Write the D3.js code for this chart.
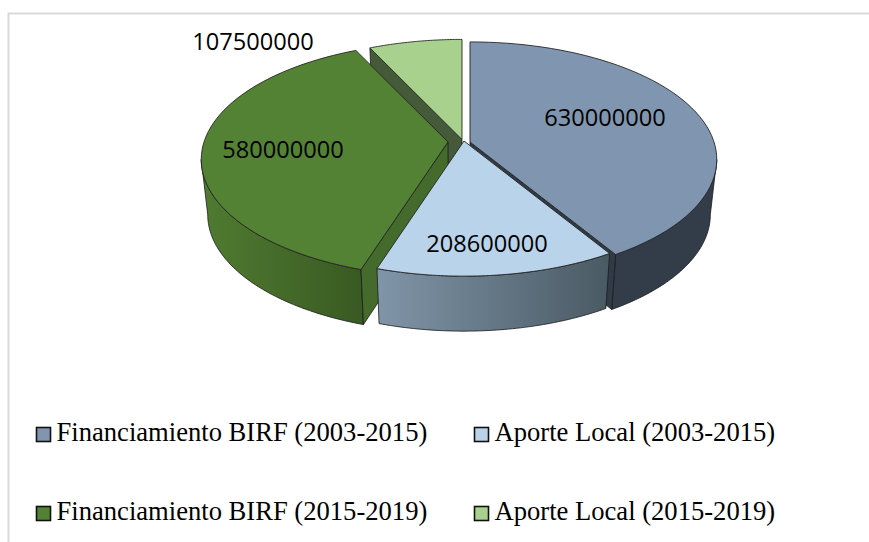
<!DOCTYPE html>
<html>
<head>
<meta charset="utf-8">
<script src="https://cdn.jsdelivr.net/npm/d3@7/dist/d3.min.js"></script>
<style>
html,body {margin:0;padding:0;background:#fff;}
svg {display:block;}
</style>
</head>
<body>
<div id="chart"></div>
<script>
//Chart values
var categories=["Financiamiento BIRF (2003-2015)","Aporte Local (2003-2015)","Financiamiento BIRF (2015-2019)","Aporte Local (2015-2019)"];
var values=[630000000,208600000,580000000,107500000];

//Slice colors
var topColors=["#8096b0","#b9d3ea","#548235","#a9d18e"];
var wallLeft=["#333d49","#8095a8","#507b31","#445a38"];
var wallRight=["#333d49","#4a5a64","#395a22","#445a38"];
var cutColors=["#303b47","#4a5a64","#446a2c","#445a38"];

//Layout of the exploded slices (apex of every slice on screen)
var apexX=[470,464,448,462];
var apexY=[142,141,142,139.5];
var labelX=[605,487,283,253];
var labelY=[117,243,149,41];

//Dimensions
var w=869;
var h=542;
var rx=244;      //horizontal radius
var ry=115;      //vertical radius
var persp=0.149; //the near side of the disc looks bigger
var depth=55;    //height of the walls
var shrink=0.975;//bottom of the pie converges a bit

var svg=d3.select("#chart")
          .append("svg")
          .attr("width",w)
          .attr("height",h);

//Gray frame, only top and left are visible
svg.append("path")
   .attr("d","M8.5,542V13.5H869")
   .attr("fill","none")
   .attr("stroke","#d9d9d9")
   .attr("stroke-width",2);

var pie=d3.pie().sort(null);
var slices=pie(values);

//Angle where the rim reaches its widest point, walls start to show there
var sideAngle=Math.acos(-persp);

//Point on the rim of a slice, side 0 is the top face and 1 the bottom
function rim(i,angle,side) {
    var u=Math.sin(angle),v=-Math.cos(angle);
    var d=1-persp*v;
    var x=rx*u/d, y=ry*v/d;
    if (side==1) {
        var mid=460-apexX[i];
        x=(x-mid)*shrink+mid;
        y=y+depth;
    }
    return [apexX[i]+x,apexY[i]+y];
}

function arcPoints(i,a0,a1,side) {
    return d3.range(0,61).map(function(k) {
        return rim(i,a0+(a1-a0)*k/60,side);
    });
}

function apex(i,side) {
    if (side==0) return [apexX[i],apexY[i]];
    var mid=460-apexX[i];
    return [apexX[i]-mid*shrink+mid,apexY[i]+depth];
}

var line=d3.line().curve(d3.curveLinear);
var defs=svg.append("defs");

slices.forEach(function(d,i) {
    var g=defs.append("linearGradient").attr("id","wall"+i);
    g.append("stop").attr("offset","0%").attr("stop-color",wallLeft[i]);
    g.append("stop").attr("offset","100%").attr("stop-color",wallRight[i]);
});

//Curved wall, only the part that faces the viewer
function drawOuter(i) {
    var d=slices[i];
    var a0=Math.max(d.startAngle,sideAngle);
    var a1=Math.min(d.endAngle,2*Math.PI-sideAngle);
    var up=arcPoints(i,a0,a1,0);
    var down=arcPoints(i,a0,a1,1).reverse();
    svg.append("path")
       .attr("d",line(up.concat(down))+"Z")
       .attr("fill","url(#wall"+i+")")
       .attr("stroke","#1a1a1a")
       .attr("stroke-width",0.8);
}

//Flat wall along one radius of a slice
function drawCut(i,angle) {
    var pts=[apex(i,0),rim(i,angle,0),rim(i,angle,1),apex(i,1)];
    svg.append("path")
       .attr("d",line(pts)+"Z")
       .attr("fill",cutColors[i])
       .attr("stroke","#1a1a1a")
       .attr("stroke-width",0.8);
}

function drawTop(i) {
    var d=slices[i];
    var pts=[apex(i,0)].concat(arcPoints(i,d.startAngle,d.endAngle,0));
    svg.append("path")
       .attr("d",line(pts)+"Z")
       .attr("fill",topColors[i])
       .attr("stroke","#262626")
       .attr("stroke-width",0.9)
       .attr("stroke-linejoin","round");
}

//Paint from back to front
drawCut(3,slices[3].startAngle);
drawTop(3);
drawOuter(0);
drawCut(0,slices[0].endAngle);
drawTop(0);
drawOuter(2);
drawCut(2,slices[2].startAngle);
drawTop(2);
drawOuter(1);
drawTop(1);

//Value labels
svg.selectAll(".value")
   .data(values)
   .enter()
   .append("text")
   .attr("class","value")
   .attr("x",function(d,i) {return labelX[i];})
   .attr("y",function(d,i) {return labelY[i];})
   .attr("text-anchor","middle")
   .attr("dominant-baseline","central")
   .style("font-family","'Open Sans'")
   .style("font-size","23.6px")
   .style("fill","#000")
   .text(function(d) {return d;});

//Legend
var legendX=[36.5,474.5];
var legendY=[427.5,506.5];

var legend=svg.selectAll(".legend")
              .data(categories)
              .enter()
              .append("g")
              .attr("class","legend")
              .attr("transform",function(d,i) {
                  return "translate("+legendX[i%2]+","+legendY[Math.floor(i/2)]+")";
              });

legend.append("rect")
      .attr("width",14)
      .attr("height",14)
      .attr("fill",function(d,i) {return topColors[i];})
      .attr("stroke","#111")
      .attr("stroke-width",1.6);

legend.append("text")
      .attr("x",20)
      .attr("y",13.5)
      .style("font-family","'Liberation Serif'")
      .style("font-size","26.6px")
      .style("fill","#000")
      .text(function(d) {return d;});
</script>
</body>
</html>
